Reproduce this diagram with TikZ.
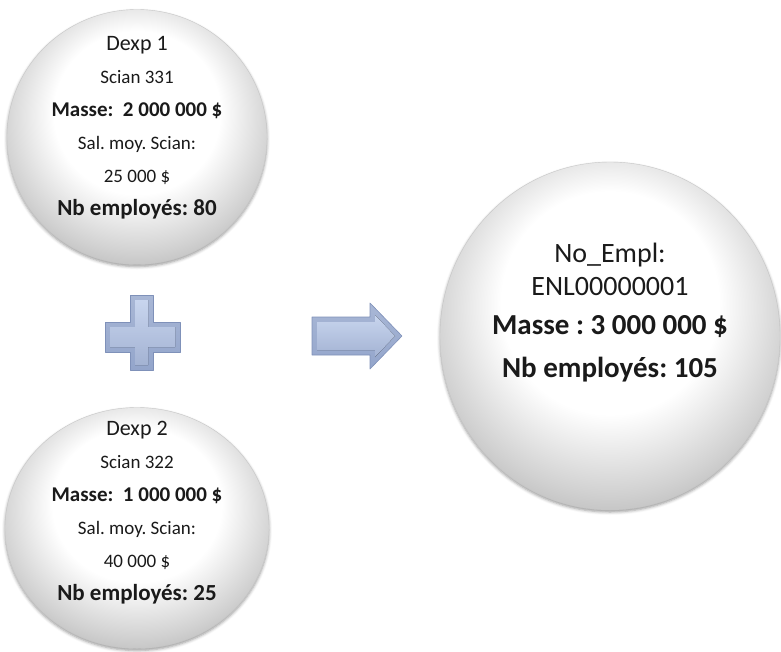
\documentclass[tikz,border=0pt]{standalone}
\usepackage{fontspec}
\setmainfont{Carlito}
\usetikzlibrary{shapes.geometric,shadows.blur}
\definecolor{encre}{HTML}{1A1A1A}
\definecolor{bleuclair}{HTML}{C8D5EE}
\definecolor{bleufonce}{HTML}{93A5CB}
\definecolor{bordbleu}{HTML}{7F91B9}
\pgfdeclareradialshading{sphere}{\pgfpoint{0bp}{7bp}}{color(0bp)=(white); color(16bp)=(white);
 color(26bp)=(black!18); color(32bp)=(black!30); color(50bp)=(black!30)}
\newcommand\taille[1]{\fontsize{#1}{33}\selectfont}
\frenchspacing
\tikzset{
 bulle/.style={ellipse, draw=black!22, line width=0.4pt, shading=sphere,
  blur shadow={shadow xshift=0pt, shadow yshift=-2pt, shadow blur radius=3pt}},
 contenu/.style={align=center, text=encre, inner sep=0pt, font=\taille{19}},
 forme/.style={draw=bordbleu, line width=0.6pt, top color=bleufonce!80, bottom color=bleufonce, line join=round},
 relief/.style={top color=bleuclair, bottom color=bleufonce!85}
}
\begin{document}
\begin{tikzpicture}[x=1pt,y=-1pt]
\useasboundingbox (0,0) rectangle (781,651);
\node[bulle, minimum width=260, minimum height=255] (dexp1) at (137,137){};
\node[bulle, minimum width=264, minimum height=241] (dexp2) at (137,528){};
\node[bulle, minimum width=340, minimum height=348] (empl) at (610,336){};
\node[contenu] (t1) at (dexp1.center) [yshift=9pt] {{\taille{22}Dexp 1}\\ Scian 331\\
 {\taille{21}\bfseries Masse:~ 2 000 000 \$}\\ Sal. moy. Scian:\\ 25 000 \$\\
 {\taille{23}\bfseries Nb employés: 80}};
\node[contenu] (t2) at (dexp2.center) [yshift=15pt] {{\taille{22}Dexp 2}\\ Scian 322\\
 {\taille{21}\bfseries Masse:~ 1 000 000 \$}\\ Sal. moy. Scian:\\ 40 000 \$\\
 {\taille{23}\bfseries Nb employés: 25}};
\node[contenu] (t3) at (empl.center) [yshift=23pt] {{\taille{28}No\_Empl:}\\
 {\taille{28}ENL00000001}\\[6pt]
 {\taille{29}\bfseries Masse : 3 000 000 \$}\\[10pt] {\taille{29}\bfseries Nb employés: 105}};
% signe plus
\draw[forme] (130,295) -- (153,295) -- (153,322) -- (180,322) -- (180,352) -- (153,352) -- (153,370)
 -- (130,370) -- (130,352) -- (105,352) -- (105,322) -- (130,322) -- cycle;
\fill[relief] (135,300) -- (148,300) -- (148,327) -- (175,327) -- (175,347) -- (148,347) -- (148,365)
 -- (135,365) -- (135,347) -- (110,347) -- (110,327) -- (135,327) -- cycle;
% fleche
\draw[forme] (312,317) -- (370,317) -- (370,303) -- (402,336) -- (370,369) -- (370,355) -- (312,355) -- cycle;
\fill[relief] (317,322) -- (375,322) -- (375,315) -- (395,336) -- (375,357) -- (375,350) -- (317,350) -- cycle;
\end{tikzpicture}
\end{document}
